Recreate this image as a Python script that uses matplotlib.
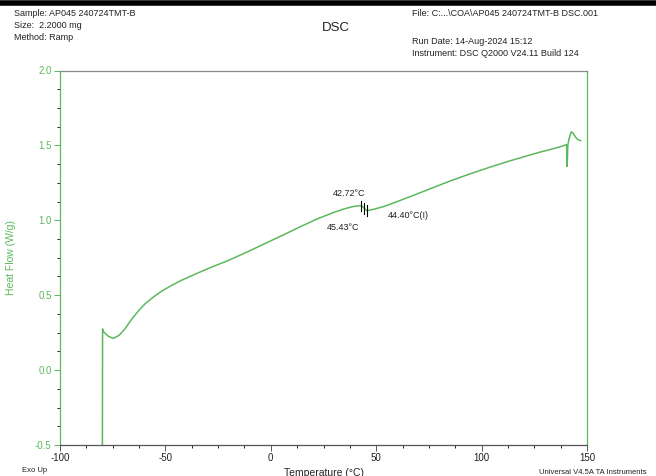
import matplotlib
matplotlib.use("Agg")
import matplotlib.pyplot as plt
from matplotlib.ticker import MultipleLocator
from matplotlib.lines import Line2D

plt.rcParams['font.family'] = ['Liberation Sans', 'DejaVu Sans']

# ---- data ----
temperature = [-79.9, -79.8, -79.3, -77.0, -74.7, -72.0, -69.2, -66.0, -62.5, -59.7,
               -55.5, -51.8, -47.0, -42.3, -35.0, -28.0, -21.0, -15.4, -9.9, -2.75,
               5.9, 14.0, 21.8, 29.7, 35.0, 39.1, 42.3, 43.5, 44.4, 45.4,
               46.3, 49.0, 53.4, 60.0, 69.2, 75.5, 85.0, 94.5, 104.0, 113.5,
               121.0, 127.7, 132.4, 137.0, 140.3, 140.6, 140.9, 141.5, 142.5, 143.3,
               144.5, 145.5, 147.0]
heat_flow = [-0.6, 0.275, 0.255, 0.225, 0.212, 0.232, 0.275, 0.340, 0.400, 0.442,
             0.490, 0.527, 0.566, 0.600, 0.646, 0.688, 0.727, 0.762, 0.797, 0.845,
             0.902, 0.957, 1.008, 1.052, 1.077, 1.092, 1.098, 1.094, 1.078, 1.066,
             1.066, 1.074, 1.091, 1.125, 1.175, 1.210, 1.262, 1.310, 1.355, 1.397,
             1.428, 1.455, 1.472, 1.490, 1.505, 1.360, 1.500, 1.545, 1.590, 1.583,
             1.557, 1.540, 1.532]

transition_temps = [42.72, 44.40, 45.43]
transition_hf = [1.097, 1.078, 1.066]
transition_labels = ["42.72°C", "44.40°C(I)", "45.43°C"]
label_pos = [(37.1, 1.182, 'center'), (55.6, 1.029, 'left'), (34.2, 0.949, 'center')]

x_ticks = [-100, -50, 0, 50, 100, 150]
y_ticks = [-0.5, 0.0, 0.5, 1.0, 1.5, 2.0]

GREEN = '#5cb85c'
TXT = '#222222'

fig = plt.figure(figsize=(6.56, 4.76), dpi=100)
ax = fig.add_axes([60/656, 1-445/476, (587-60)/656, (445-70.5)/476])

ax.plot(temperature, heat_flow, color=GREEN, lw=1.1, clip_on=True)

for t, h in zip(transition_temps, transition_hf):
    ax.plot([t, t], [h - 0.035, h + 0.035], color='black', lw=0.8)
for lab, (lx, ly, ha) in zip(transition_labels, label_pos):
    ax.text(lx, ly, lab, fontsize=6.5, color=TXT, ha=ha, va='center')

ax.set_xlim(-100, 150)
ax.set_ylim(-0.5, 2.0)
ax.set_xticks(x_ticks)
ax.set_yticks(y_ticks)
ax.set_xticklabels([str(v) for v in x_ticks])
ax.set_yticklabels([f"{v:.1f}" for v in y_ticks])
ax.xaxis.set_minor_locator(MultipleLocator(12.5))
ax.yaxis.set_minor_locator(MultipleLocator(0.125))
ax.tick_params(axis='both', which='major', length=4, width=0.7, labelsize=7, pad=2)
ax.tick_params(axis='both', which='minor', length=2.5, width=0.6)
ax.tick_params(axis='x', colors='#555555', labelcolor=TXT)
ax.tick_params(axis='y', colors=GREEN, labelcolor=GREEN)

ax.spines['left'].set_color(GREEN)
ax.spines['right'].set_color(GREEN)
ax.spines['top'].set_color('#888888')
ax.spines['bottom'].set_color('#555555')
for s in ax.spines.values():
    s.set_linewidth(0.9)

ax.set_xlabel("Temperature (°C)", fontsize=7.5, color=TXT, labelpad=3)
ax.set_ylabel("Heat Flow (W/g)", fontsize=7.5, color=GREEN, labelpad=14)

# header
fig.add_artist(Line2D([0, 1], [1 - 2.5/476, 1 - 2.5/476], color='black', lw=4, transform=fig.transFigure))
fig.text(14/656, 1-13/476, "Sample: AP045 240724TMT-B", fontsize=6.5, color=TXT, va='center')
fig.text(14/656, 1-26/476, "Size:  2.2000 mg", fontsize=6.5, color=TXT, va='center')
fig.text(14/656, 1-38/476, "Method: Ramp", fontsize=6.5, color=TXT, va='center')
fig.text(336/656, 1-28/476, "DSC", fontsize=9.5, color=TXT, va='center', ha='center')
fig.text(412/656, 1-13/476, "File: C:...\\COA\\AP045 240724TMT-B DSC.001", fontsize=6.5, color=TXT, va='center')
fig.text(412/656, 1-41/476, "Run Date: 14-Aug-2024 15:12", fontsize=6.5, color=TXT, va='center')
fig.text(412/656, 1-53/476, "Instrument: DSC Q2000 V24.11 Build 124", fontsize=6.5, color=TXT, va='center')

fig.text(22/656, 1-471/476, "Exo Up", fontsize=5.5, color=TXT, va='center')
fig.text(647/656, 1-472/476, "Universal V4.5A TA Instruments", fontsize=5.5, color=TXT, va='center', ha='right')

fig.savefig("out.png", dpi=100)
